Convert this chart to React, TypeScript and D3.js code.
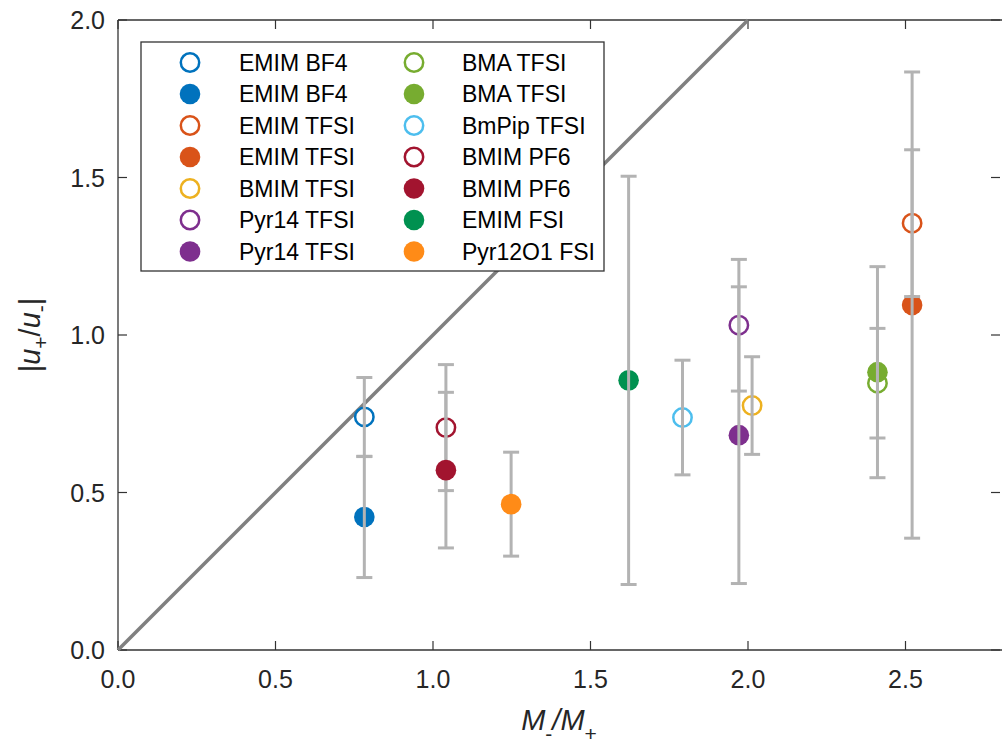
import React from 'react';
import * as d3 from 'd3';

const W = 1002;
const H = 744;
const margin = { top: 20, right: 2, bottom: 94, left: 118 };

// legend order: first 7 go in column 1, the rest in column 2
const seriesNames = [
  'EMIM BF4', 'EMIM BF4', 'EMIM TFSI', 'EMIM TFSI', 'BMIM TFSI', 'Pyr14 TFSI', 'Pyr14 TFSI',
  'BMA TFSI', 'BMA TFSI', 'BmPip TFSI', 'BMIM PF6', 'BMIM PF6', 'EMIM FSI', 'Pyr12O1 FSI',
];
const massRatio = [0.782, 0.782, 2.521, 2.521, 2.013, 1.971, 1.971, 2.411, 2.411, 1.792, 1.041, 1.041, 1.621, 1.248];
const mobilityRatio = [0.74, 0.422, 1.355, 1.095, 0.776, 1.031, 0.682, 0.847, 0.882, 0.738, 0.706, 0.571, 0.856, 0.463];
const errorHalf = [0.125, 0.192, 0.233, 0.74, 0.155, 0.209, 0.471, 0.174, 0.335, 0.182, 0.2, 0.247, 0.648, 0.165];
const isFilled = [false, true, false, true, false, false, true, false, true, false, false, true, true, true];
const seriesColors = [
  '#0072BD', '#0072BD', '#D95319', '#D95319', '#EDB120', '#7E2F8E', '#7E2F8E',
  '#77AC30', '#77AC30', '#4DBEEE', '#A2142F', '#A2142F', '#009150', '#FF8B17',
];
const xTicks = [0, 0.5, 1.0, 1.5, 2.0, 2.5];
const yTicks = [0, 0.5, 1.0, 1.5, 2.0];
// these markers sit on top of their error bars
const lateMarkers = ['BMIM PF6', 'Pyr12O1 FSI'];

const FONT = "'Liberation Sans', Arial, Helvetica, sans-serif";
const AXIS = '#333333';

export default function App() {
  const x = d3.scaleLinear().domain([0, 2.8]).range([margin.left, W - margin.right]);
  const y = d3.scaleLinear().domain([0, 2]).range([H - margin.bottom, margin.top]);
  const fmt = d3.format('.1f');

  const points = seriesNames.map((name, i) => ({
    name,
    x: massRatio[i],
    y: mobilityRatio[i],
    e: errorHalf[i],
    filled: isFilled[i],
    color: seriesColors[i],
    i,
  }));

  const marker = (p: any, cx: number, cy: number) =>
    p.filled ? (
      <circle key={'m' + p.i} cx={cx} cy={cy} r={10.3} fill={p.color} />
    ) : (
      <circle key={'m' + p.i} cx={cx} cy={cy} r={9.2} fill="none" stroke={p.color} strokeWidth={2.5} />
    );

  const early = points.filter((p) => !(p.filled && lateMarkers.includes(p.name)));
  const late = points.filter((p) => p.filled && lateMarkers.includes(p.name));

  const x0 = x.range()[0];
  const x1 = x.range()[1];
  const y0 = y.range()[0];
  const y1 = y.range()[1];
  const tickLen = 9;
  const cap = 8;

  const diag = d3.line<number>().x((d) => x(d)).y((d) => y(d))([0, 2]);

  const legendX = 141;
  const legendY = 42;
  const rowH = 31.5;
  const colX = [190, 414];
  const textX = [239, 462];

  return (
    <svg
      width={W}
      height={H}
      style={{ position: 'absolute', left: 0, top: 0, background: '#fff' }}
      fontFamily={FONT}
    >
      <rect x={0} y={0} width={W} height={H} fill="#fff" />

      {/* axes box (left, bottom, top) */}
      <line x1={x0} x2={x0} y1={y0} y2={y1} stroke={AXIS} strokeWidth={1.3} />
      <line x1={x0} x2={W} y1={y0} y2={y0} stroke={AXIS} strokeWidth={1.3} />
      <line x1={x0} x2={W} y1={y1} y2={y1} stroke={AXIS} strokeWidth={1.3} />

      {xTicks.map((t) => (
        <g key={'xt' + t}>
          <line x1={x(t)} x2={x(t)} y1={y0} y2={y0 - tickLen} stroke={AXIS} strokeWidth={1.2} />
          <line x1={x(t)} x2={x(t)} y1={y1} y2={y1 + tickLen} stroke={AXIS} strokeWidth={1.2} />
          <text x={x(t)} y={y0 + 38} textAnchor="middle" fontSize={25} fill="#262626">
            {fmt(t)}
          </text>
        </g>
      ))}
      {yTicks.map((t) => (
        <g key={'yt' + t}>
          <line x1={x0} x2={x0 + tickLen} y1={y(t)} y2={y(t)} stroke={AXIS} strokeWidth={1.2} />
          <line x1={x1} x2={x1 - tickLen} y1={y(t)} y2={y(t)} stroke={AXIS} strokeWidth={1.2} />
          <text x={x0 - 13} y={y(t)} dy="0.36em" textAnchor="end" fontSize={25} fill="#262626">
            {fmt(t)}
          </text>
        </g>
      ))}

      {/* y = x reference line */}
      <path d={diag || ''} stroke="#808080" strokeWidth={3.5} fill="none" />

      {early.map((p) => marker(p, x(p.x), y(p.y)))}

      {points.map((p) => (
        <g key={'e' + p.i} stroke="#b3b3b3" strokeWidth={3}>
          <line x1={x(p.x)} x2={x(p.x)} y1={y(p.y - p.e)} y2={y(p.y + p.e)} />
          <line x1={x(p.x) - cap} x2={x(p.x) + cap} y1={y(p.y - p.e)} y2={y(p.y - p.e)} />
          <line x1={x(p.x) - cap} x2={x(p.x) + cap} y1={y(p.y + p.e)} y2={y(p.y + p.e)} />
        </g>
      ))}

      {late.map((p) => marker(p, x(p.x), y(p.y)))}

      {/* legend */}
      <rect x={legendX} y={legendY} width={463} height={229} fill="#fff" stroke={AXIS} strokeWidth={1.3} />
      {points.map((p, i) => {
        const col = i < 7 ? 0 : 1;
        const row = i % 7;
        const cy = legendY + 20.5 + row * rowH;
        return (
          <g key={'l' + i}>
            {marker(p, colX[col], cy)}
            <text x={textX[col]} y={cy} dy="0.36em" fontSize={23} fill="#000">
              {p.name}
            </text>
          </g>
        );
      })}

      {/* axis titles */}
      <text x={(x0 + x1) / 2} y={730} textAnchor="middle" fontSize={29} fill="#262626">
        <tspan fontStyle="italic">M</tspan>
        <tspan fontSize={21} dy={11}>-</tspan>
        <tspan fontStyle="italic" dy={-11}>/M</tspan>
        <tspan fontSize={21} dy={11}>+</tspan>
      </text>
      <text
        transform={`translate(40, ${(y0 + y1) / 2}) rotate(-90)`}
        textAnchor="middle"
        fontSize={29}
        fill="#262626"
      >
        <tspan>|</tspan>
        <tspan fontStyle="italic">u</tspan>
        <tspan fontSize={21} dy={8}>+</tspan>
        <tspan dy={-8}>/</tspan>
        <tspan fontStyle="italic">u</tspan>
        <tspan fontSize={21} dy={8}>-</tspan>
        <tspan dy={-8}>|</tspan>
      </text>
    </svg>
  );
}
